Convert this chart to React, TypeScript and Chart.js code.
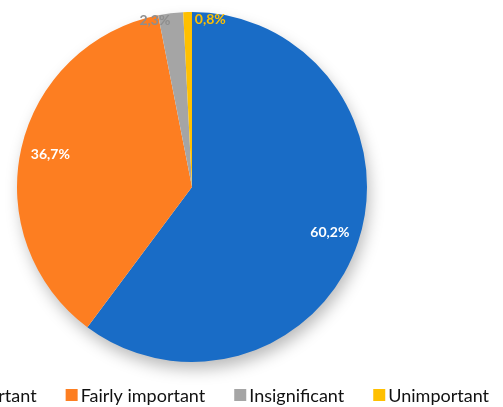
import React, { useEffect, useRef } from "react";
import { Chart, registerables } from "chart.js";

Chart.register(...registerables);

const categories = ["Very important", "Fairly important", "Insignificant", "Unimportant"];
const values = [60.2, 36.7, 2.3, 0.8];
const valueLabels = ["60,2%", "36,7%", "2,3%", "0,8%"];
const colors = ["#196CC6", "#FD7E21", "#A5A5A5", "#FFC000"];
const labelColors = ["#FFFFFF", "#FFFFFF", "#8E8E8E", "#FFC000"];

const FONT = "Lato, 'Open Sans', sans-serif";

const shadowPlugin = {
  id: "pieShadow",
  beforeDatasetsDraw(chart: any) {
    const meta = chart.getDatasetMeta(0);
    const arc = meta.data[0];
    if (!arc) return;
    const { x, y, outerRadius } = arc.getProps(["x", "y", "outerRadius"], true);
    const ctx = chart.ctx;
    ctx.save();
    ctx.shadowColor = "rgba(0,0,0,0.28)";
    ctx.shadowBlur = 16;
    ctx.shadowOffsetX = 3;
    ctx.shadowOffsetY = 8;
    ctx.beginPath();
    ctx.arc(x, y, outerRadius - 1, 0, Math.PI * 2);
    ctx.fillStyle = "#ffffff";
    ctx.fill();
    ctx.restore();
  },
};

const labelPlugin = {
  id: "sliceLabels",
  afterDatasetsDraw(chart: any) {
    const meta = chart.getDatasetMeta(0);
    const ctx = chart.ctx;
    ctx.save();
    ctx.font = `bold 14px ${FONT}`;
    ctx.textBaseline = "middle";
    meta.data.forEach((arc: any, i: number) => {
      const { x, y, startAngle, endAngle, outerRadius } = arc.getProps(
        ["x", "y", "startAngle", "endAngle", "outerRadius"],
        true
      );
      const mid = (startAngle + endAngle) / 2;
      const small = values[i] < 5;
      const f = small ? 0.96 : 0.83;
      let px = x + Math.cos(mid) * outerRadius * f;
      const py = y + Math.sin(mid) * outerRadius * f;
      ctx.fillStyle = labelColors[i];
      if (small) {
        if (i === 2) {
          ctx.textAlign = "right";
          px -= 1;
        } else {
          ctx.textAlign = "left";
          px += 7;
        }
      } else {
        ctx.textAlign = "center";
      }
      ctx.fillText(valueLabels[i], px, py);
    });
    ctx.restore();
  },
};

const legendPlugin = {
  id: "customLegend",
  afterDraw(chart: any) {
    const ctx = chart.ctx;
    ctx.save();
    ctx.font = `18px ${FONT}`;
    ctx.textBaseline = "middle";
    ctx.textAlign = "left";
    const box = 12;
    const gap = 3;
    const spacing = 29;
    const widths = categories.map((c) => box + gap + ctx.measureText(c).width);
    const total = widths.reduce((a, b) => a + b, 0) + spacing * (categories.length - 1);
    const right = chart.width - 14;
    let x = right - total;
    const y = chart.height - 12;
    categories.forEach((c, i) => {
      ctx.fillStyle = colors[i];
      ctx.fillRect(x, y - box / 2, box, box);
      ctx.fillStyle = "#111111";
      ctx.fillText(c, x + box + gap, y + 1);
      x += widths[i] + spacing;
    });
    ctx.restore();
  },
};

export default function App() {
  const ref = useRef<HTMLCanvasElement | null>(null);
  useEffect(() => {
    if (!ref.current) return;
    const chart = new Chart(ref.current, {
      type: "pie",
      data: {
        labels: categories,
        datasets: [
          {
            data: values,
            backgroundColor: colors,
            borderWidth: 0,
          },
        ],
      },
      options: {
        animation: false,
        responsive: true,
        maintainAspectRatio: false,
        layout: { padding: { top: 12, bottom: 45, left: 0, right: 119 } },
        plugins: {
          legend: { display: false },
          tooltip: { enabled: false },
        },
      },
      plugins: [shadowPlugin, labelPlugin, legendPlugin],
    });
    return () => chart.destroy();
  }, []);
  return (
    <div style={{ position: "absolute", left: 0, top: 0, width: 503, height: 407, background: "#fff" }}>
      <canvas ref={ref} />
    </div>
  );
}
